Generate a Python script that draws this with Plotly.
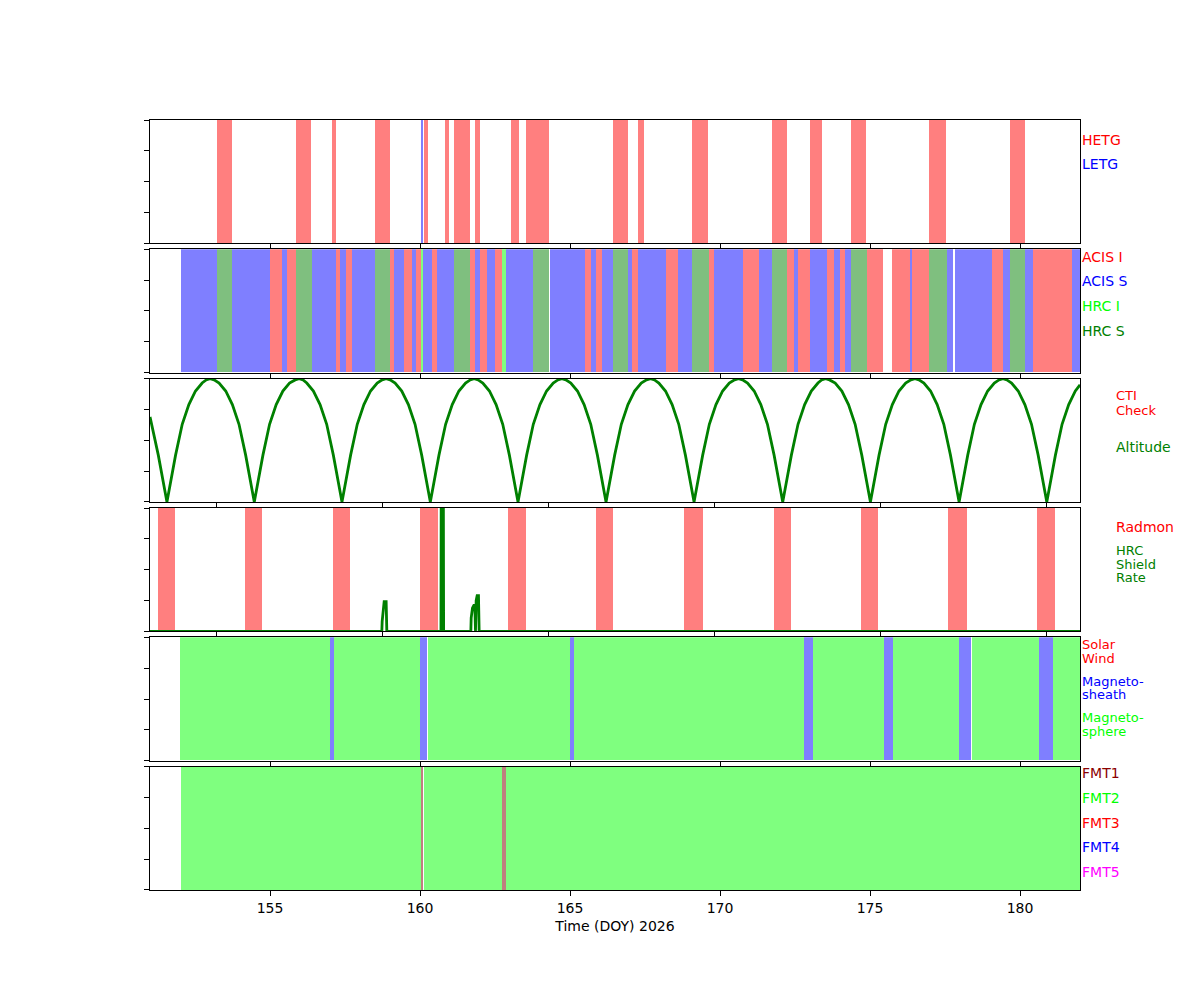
import plotly.graph_objects as go
from plotly.subplots import make_subplots

# ---- panel 1: gratings (DOY 2026)
hetg = [(153.23, 153.73), (155.87, 156.37), (157.07, 157.20), (158.50, 159.00),
        (160.13, 160.27), (160.83, 160.97), (161.13, 161.67), (161.83, 162.00),
        (163.03, 163.30), (163.53, 164.30), (166.43, 166.93), (167.27, 167.47),
        (169.07, 169.60), (171.73, 172.23), (173.00, 173.40), (174.37, 174.87),
        (176.97, 177.53), (179.67, 180.17)]
letg = [(160.03, 160.10)]

# ---- panel 2: instruments
acis_i = [(155.00, 155.40), (155.57, 155.87), (157.20, 157.33), (157.53, 157.73),
          (159.00, 159.13), (159.47, 159.73), (159.87, 160.03), (160.40, 160.57),
          (161.67, 161.83), (162.00, 162.23), (162.50, 162.73), (165.50, 165.70),
          (165.87, 166.07), (167.07, 167.27), (168.20, 168.60), (169.63, 169.80),
          (170.77, 171.30), (172.23, 172.47), (172.60, 173.00), (173.57, 173.80),
          (174.00, 174.17), (174.90, 175.43), (175.73, 176.33), (176.40, 176.97),
          (179.07, 179.43), (180.43, 181.73)]
acis_s = [(152.03, 153.23), (153.73, 155.00), (155.40, 155.57), (156.40, 157.20),
          (157.33, 157.53), (157.73, 158.50), (159.13, 159.47), (159.73, 159.87),
          (160.10, 160.40), (160.57, 161.13), (161.83, 162.00), (162.23, 162.50),
          (162.87, 163.77), (164.33, 165.50), (165.70, 165.87), (166.07, 166.43),
          (166.93, 167.07), (167.27, 168.20), (168.60, 169.07), (169.80, 170.77),
          (171.30, 171.73), (172.47, 172.60), (173.00, 173.57), (173.80, 174.00),
          (174.17, 174.37), (176.33, 176.40), (177.57, 177.77), (177.83, 179.07),
          (179.43, 179.67), (180.17, 180.43), (181.73, 182.00)]
hrc_i = [(160.03, 160.10), (162.73, 162.87)]
hrc_s = [(153.23, 153.73), (155.87, 156.40), (158.50, 159.00), (161.13, 161.67),
         (163.77, 164.30), (166.43, 166.93), (169.07, 169.63), (171.73, 172.23),
         (174.37, 174.90), (176.97, 177.57), (179.67, 180.17)]

# ---- panel 3: altitude (normalised); panels 3/4 have their own time axis
alt_t = [
    [153.00, 153.05, 153.25, 153.51],
    [153.77, 153.97, 154.17, 154.37, 154.57, 154.69, 154.81, 154.93, 155.08, 155.28, 155.48, 155.68, 155.88, 156.14],
    [156.40, 156.60, 156.80, 157.00, 157.20, 157.37, 157.49, 157.61, 157.72, 157.92, 158.12, 158.32, 158.52, 158.78],
    [159.04, 159.24, 159.44, 159.64, 159.84, 159.99, 160.11, 160.23, 160.38, 160.58, 160.78, 160.98, 161.18, 161.44],
    [161.70, 161.90, 162.10, 162.30, 162.50, 162.64, 162.76, 162.88, 163.02, 163.22, 163.42, 163.62, 163.82, 164.08],
    [164.34, 164.54, 164.74, 164.94, 165.14, 165.28, 165.40, 165.52, 165.67, 165.87, 166.07, 166.27, 166.47, 166.73],
    [166.99, 167.19, 167.39, 167.59, 167.79, 167.95, 168.07, 168.19, 168.32, 168.52, 168.72, 168.92, 169.12, 169.38],
    [169.64, 169.84, 170.04, 170.24, 170.44, 170.60, 170.72, 170.84, 170.99, 171.19, 171.39, 171.59, 171.79, 172.05],
    [172.31, 172.51, 172.71, 172.91, 173.11, 173.22, 173.34, 173.46, 173.63, 173.83, 174.03, 174.23, 174.43, 174.69],
    [174.95, 175.15, 175.35, 175.55, 175.75, 175.91, 176.03, 176.15, 176.30, 176.50, 176.70, 176.90, 177.10, 177.36],
    [177.62, 177.82, 178.02, 178.22, 178.42, 178.56, 178.68, 178.80, 178.94, 179.14, 179.34, 179.54, 179.74, 180.00],
    [180.26, 180.46, 180.66, 180.86, 181.00],
]
alt_v = [
    [0.69, 0.63, 0.38, 0.00],
    [0.38, 0.63, 0.79, 0.90, 0.965, 0.99, 1.00, 0.99, 0.965, 0.90, 0.79, 0.63, 0.38, 0.00],
    [0.38, 0.63, 0.79, 0.90, 0.965, 0.99, 1.00, 0.99, 0.965, 0.90, 0.79, 0.63, 0.38, 0.00],
    [0.38, 0.63, 0.79, 0.90, 0.965, 0.99, 1.00, 0.99, 0.965, 0.90, 0.79, 0.63, 0.38, 0.00],
    [0.38, 0.63, 0.79, 0.90, 0.965, 0.99, 1.00, 0.99, 0.965, 0.90, 0.79, 0.63, 0.38, 0.00],
    [0.38, 0.63, 0.79, 0.90, 0.965, 0.99, 1.00, 0.99, 0.965, 0.90, 0.79, 0.63, 0.38, 0.00],
    [0.38, 0.63, 0.79, 0.90, 0.965, 0.99, 1.00, 0.99, 0.965, 0.90, 0.79, 0.63, 0.38, 0.00],
    [0.38, 0.63, 0.79, 0.90, 0.965, 0.99, 1.00, 0.99, 0.965, 0.90, 0.79, 0.63, 0.38, 0.00],
    [0.38, 0.63, 0.79, 0.90, 0.965, 0.99, 1.00, 0.99, 0.965, 0.90, 0.79, 0.63, 0.38, 0.00],
    [0.38, 0.63, 0.79, 0.90, 0.965, 0.99, 1.00, 0.99, 0.965, 0.90, 0.79, 0.63, 0.38, 0.00],
    [0.38, 0.63, 0.79, 0.90, 0.965, 0.99, 1.00, 0.99, 0.965, 0.90, 0.79, 0.63, 0.38, 0.00],
    [0.38, 0.63, 0.79, 0.90, 0.95],
]
cti_check = []

# ---- panel 4: radmon off + HRC shield rate (normalised)
radmon = [(153.24, 153.75), (155.86, 156.37), (158.51, 159.02), (161.13, 161.67),
          (163.78, 164.32), (166.43, 166.94), (169.08, 169.64), (171.78, 172.29),
          (174.41, 174.92), (177.03, 177.60), (179.71, 180.25)]
shield_t = [153.00, 159.98, 159.99, 160.02, 160.05, 160.11, 160.13,
            161.76, 161.77, 161.83, 161.84,
            162.66, 162.67, 162.71, 162.75, 162.78, 162.80, 162.82, 162.85, 162.89, 162.91, 181.00]
shield_v = [0.00, 0.00, 0.08, 0.19, 0.24, 0.24, 0.00,
            0.00, 1.50, 1.50, 0.00,
            0.00, 0.11, 0.19, 0.21, 0.21, 0.00, 0.25, 0.29, 0.29, 0.00, 0.00]

# ---- panel 5: radiation zones
solar_wind = []
magnetosheath = [(157.00, 157.13), (160.00, 160.23), (165.00, 165.13), (172.79, 173.10),
                 (175.47, 175.78), (177.95, 178.35), (180.63, 181.10)]
magnetosphere = [(152.00, 157.00), (157.13, 160.00), (160.27, 165.00), (165.13, 172.79),
                 (173.10, 175.47), (175.78, 177.95), (178.40, 180.63), (181.10, 182.00)]

# ---- panel 6: telemetry formats
fmt1 = [(160.03, 160.10), (162.73, 162.87)]
fmt2 = [(152.03, 160.03), (160.13, 162.73), (162.87, 182.00)]
fmt3 = []
fmt4 = []
fmt5 = []

FONT = "DejaVu Sans"

fig = make_subplots(rows=6, cols=1, vertical_spacing=0.00784)


def add_bands(intervals, color, row):
    if not intervals:
        return
    starts = [a for a, b in intervals]
    widths = [b - a for a, b in intervals]
    fig.add_trace(go.Bar(x=starts, y=[1] * len(starts), width=widths, offset=0,
                         marker=dict(color=color, line=dict(width=0)),
                         hoverinfo="skip", showlegend=False), row=row, col=1)


def flat(rows):
    return [v for row in rows for v in row]


add_bands(hetg, "rgba(255,0,0,0.5)", 1)
add_bands(letg, "rgba(0,0,255,0.5)", 1)

add_bands(acis_i, "rgba(255,0,0,0.5)", 2)
add_bands(acis_s, "rgba(0,0,255,0.5)", 2)
add_bands(hrc_i, "rgba(0,255,0,0.5)", 2)
add_bands(hrc_s, "rgba(0,128,0,0.5)", 2)

add_bands(cti_check, "rgba(255,0,0,0.5)", 3)
fig.add_trace(go.Scatter(x=flat(alt_t), y=flat(alt_v), mode="lines",
                         line=dict(color="#008000", width=2.8),
                         hoverinfo="skip", showlegend=False), row=3, col=1)

add_bands(radmon, "rgba(255,0,0,0.5)", 4)
fig.add_trace(go.Scatter(x=shield_t, y=shield_v, mode="lines", line=dict(color="#008000", width=2.8),
                         hoverinfo="skip", showlegend=False), row=4, col=1)

add_bands(solar_wind, "rgba(255,0,0,0.5)", 5)
add_bands(magnetosheath, "rgba(0,0,255,0.5)", 5)
add_bands(magnetosphere, "rgba(0,255,0,0.5)", 5)

add_bands(fmt1, "rgba(128,0,0,0.5)", 6)
add_bands(fmt2, "rgba(0,255,0,0.5)", 6)
add_bands(fmt3, "rgba(255,0,0,0.5)", 6)
add_bands(fmt4, "rgba(0,0,255,0.5)", 6)
add_bands(fmt5, "rgba(255,0,255,0.5)", 6)

for r in range(1, 7):
    xr = [153, 181] if r in (3, 4) else [151, 182]
    fig.update_xaxes(range=xr, dtick=5, tick0=155, ticks="outside", ticklen=5, tickcolor="black",
                     showline=True, linecolor="black", linewidth=1, mirror=True,
                     showgrid=False, zeroline=False, showticklabels=(r == 6),
                     tickfont=dict(family=FONT, size=14, color="black"), row=r, col=1)
    fig.update_yaxes(range=[0, 1], tickvals=[0, 0.25, 0.5, 0.75, 1], ticks="outside", ticklen=5,
                     tickcolor="black", showline=True, linecolor="black", linewidth=1, mirror=True,
                     showgrid=False, zeroline=False, showticklabels=False, row=r, col=1)

fig.update_xaxes(title=dict(text="Time (DOY) 2026", standoff=6,
                            font=dict(family=FONT, size=14, color="black")), row=6, col=1)

# right hand labels: (text, colour, height in panel, font size)
labels = [
    [("HETG", "#ff0000", 0.837, 14), ("LETG", "#0000ff", 0.642, 14)],
    [("ACIS I", "#ff0000", 0.938, 14), ("ACIS S", "#0000ff", 0.744, 14),
     ("HRC I", "#00ff00", 0.542, 14), ("HRC S", "#008000", 0.340, 14)],
    [("CTI", "#ff0000", 0.860, 13), ("Check", "#ff0000", 0.745, 13), ("Altitude", "#008000", 0.445, 14)],
    [("Radmon", "#ff0000", 0.850, 14), ("HRC", "#008000", 0.655, 13), ("Shield", "#008000", 0.545, 13),
     ("Rate", "#008000", 0.435, 13)],
    [("Solar", "#ff0000", 0.940, 13), ("Wind", "#ff0000", 0.830, 13), ("Magneto-", "#0000ff", 0.645, 13),
     ("sheath", "#0000ff", 0.535, 13), ("Magneto-", "#00ff00", 0.350, 13), ("sphere", "#00ff00", 0.240, 13)],
    [("FMT1", "#8b0000", 0.945, 14), ("FMT2", "#00ff00", 0.745, 14), ("FMT3", "#ff0000", 0.545, 14),
     ("FMT4", "#0000ff", 0.345, 14), ("FMT5", "#ff00ff", 0.145, 14)],
]
for r, items in enumerate(labels, start=1):
    yname = "y" if r == 1 else "y%d" % r
    xpos = 1.0375 if r in (3, 4) else 1.001
    for text, color, yy, fs in items:
        fig.add_annotation(text=text, xref="paper", x=xpos, xanchor="left",
                           yref=yname + " domain", y=yy, yanchor="middle", showarrow=False,
                           borderpad=0, font=dict(family=FONT, size=fs, color=color))

# the page puts the figure 8px in from the corner, so the margins are shifted to match
fig.update_layout(width=1200, height=1000, barmode="overlay", bargap=0,
                  margin=dict(l=142, r=128, t=112, b=118),
                  paper_bgcolor="white", plot_bgcolor="white",
                  font=dict(family=FONT, size=14, color="black"))

fig.write_html("out.html")
